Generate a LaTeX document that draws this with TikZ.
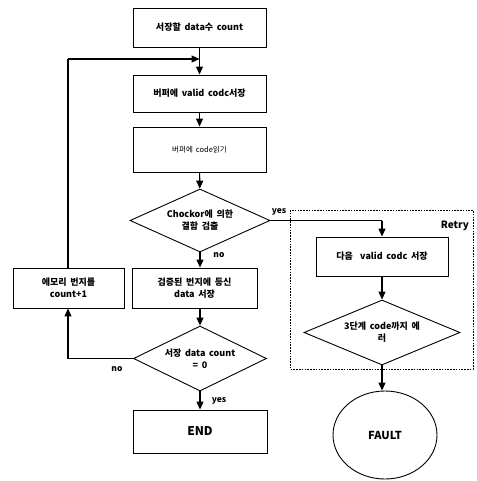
\documentclass[tikz,border=0pt]{standalone}
\usepackage{fontspec}
\setmainfont{Noto Sans CJK KR}[WordSpace=1.8]
\usetikzlibrary{arrows.meta,shapes.geometric}
\tikzset{
  proc/.style={draw,line width=0.9pt,minimum width=133pt,minimum height=38pt,align=center,font=\fontsize{9}{12}\selectfont\bfseries,inner sep=1pt},
  deci/.style={draw,line width=0.9pt,diamond,aspect=2,align=center,font=\fontsize{9}{12}\selectfont\bfseries,inner sep=0pt},
  flow/.style={line width=1.1pt,-{Triangle[length=8pt,width=7pt]}},
  plain/.style={line width=1.1pt},
  lbl/.style={font=\fontsize{8.5}{10}\selectfont\bfseries,inner sep=1pt},
  retry/.style={draw,line width=1pt,dash pattern=on 1.6pt off 1.2pt}
}
\begin{document}
\begin{tikzpicture}[x=1pt,y=-1pt]
\useasboundingbox (0,0) rectangle (476,481);
% retry frame
\draw[retry] (290,210) rectangle (473,369);
\node[lbl,font=\fontsize{10}{12}\selectfont\bfseries,anchor=east] (retrylbl) at (470,226) {Retry};
% main column
\node[proc,minimum height=39pt] (b1) at (199.5,27.5) {서장할 data수 count};
\node[proc,minimum height=37pt] (b2) at (199.5,93.5) {버퍼에 valid codc서장};
\node[proc,minimum height=45pt,font=\fontsize{7.5}{9}\selectfont] (b3) at (199.5,149.5) {버퍼에 code읽기};
\node[deci,minimum width=140pt,minimum height=63pt] (d1) at (200,220.5) {Chockor에 의한\\결함 검출};
\node[proc,minimum width=125pt,minimum height=40pt] (b5) at (194.5,288) {검증된 번지에 등신\\data 서장};
\node[deci,minimum width=133pt,minimum height=65pt] (d2) at (200,358.5) {서장 data count\\= 0};
\node[proc,minimum width=134pt,minimum height=43pt,font=\fontsize{12}{14}\selectfont\bfseries] (end) at (200,431.5) {END};
\node[proc,minimum width=111pt,minimum height=40pt] (b7) at (68.5,288) {에모리 번지를\\count+1};
% right column
\node[proc,minimum width=132pt,minimum height=39pt] (r1) at (382,256.5) {다음 \ valid codc 서장};
\node[deci,minimum width=156pt,minimum height=65pt] (d3) at (382,332.5) {3단계 code까지 에\\러};
\node[draw,line width=0.9pt,ellipse,minimum width=104pt,minimum height=88pt,font=\fontsize{11}{13}\selectfont\bfseries] (fault) at (385,435) {FAULT};
% coordinates
\coordinate (lt) at (68,59);
\coordinate (mj) at (199.5,59);
\coordinate (lb) at (68,358.5);
\coordinate (rt) at (382,220.5);
% connectors
\draw[flow] (b1) -- (b2);
\draw[plain] (b7.north -| lt) -- (lt);
\draw[flow] (lt) -- (mj);
\draw[flow] (b2) -- (b3);
\draw[flow] (b3) -- (d1);
\draw[flow] (d1.south) -- (b5.north -| d1.south);
\draw[flow] (b5.south -| d2.north) -- (d2);
\draw[flow] (d2) -- (end);
\draw[plain] (d2.west) -- (lb);
\draw[flow] (lb) -- (b7.south -| lb);
\draw[plain] (d1.east) -- (rt);
\draw[flow] (rt) -- (r1.north -| rt);
\draw[flow] (r1.south -| d3.north) -- (d3);
\draw[flow] (d3.south) -- (fault.north -| d3.south);
% labels
\node[lbl] (yes1) at (279,212) {yes};
\node[lbl] (no1) at (219,255) {no};
\node[lbl] (no2) at (117,369) {no};
\node[lbl] (yes2) at (219,401) {yes};
\end{tikzpicture}
\end{document}
